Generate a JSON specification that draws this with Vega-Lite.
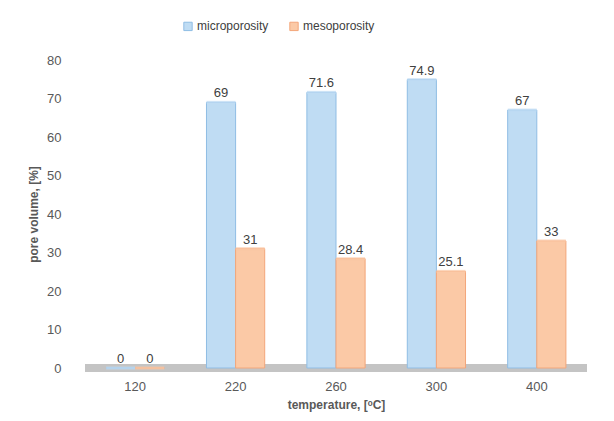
{
  "$schema": "https://vega.github.io/schema/vega-lite/v6.json",
  "width": 502,
  "height": 308,
  "autosize": "none",
  "padding": {"left": 85, "top": 60, "right": 27, "bottom": 53},
  "background": "white",
  "config": {"view": {"stroke": null}, "font": "Liberation Sans"},
  "data": {"values": [
    {"temperature": "120", "type": "microporosity", "value": 0},
    {"temperature": "120", "type": "mesoporosity", "value": 0},
    {"temperature": "220", "type": "microporosity", "value": 69},
    {"temperature": "220", "type": "mesoporosity", "value": 31},
    {"temperature": "260", "type": "microporosity", "value": 71.6},
    {"temperature": "260", "type": "mesoporosity", "value": 28.4},
    {"temperature": "300", "type": "microporosity", "value": 74.9},
    {"temperature": "300", "type": "mesoporosity", "value": 25.1},
    {"temperature": "400", "type": "microporosity", "value": 67},
    {"temperature": "400", "type": "mesoporosity", "value": 33}
  ]},
  "encoding": {
    "x": {"field": "temperature", "type": "nominal", "sort": null,
      "scale": {"paddingInner": 0.42, "paddingOuter": 0.21},
      "axis": {"title": "temperature, [ᵒC]", "labelAngle": 0, "domain": false, "ticks": false,
        "labelColor": "#595959", "labelFontSize": 13, "labelPadding": 12,
        "titleColor": "#595959", "titleFontSize": 12, "titleFontWeight": "bold", "titlePadding": 6}},
    "xOffset": {"field": "type", "type": "nominal", "sort": ["microporosity", "mesoporosity"]},
    "y": {"field": "value", "type": "quantitative",
      "scale": {"domain": [0, 80]},
      "axis": {"title": "pore volume, [%]", "values": [0,10,20,30,40,50,60,70,80], "grid": false, "domain": false, "ticks": false,
        "labelColor": "#595959", "labelFontSize": 13, "labelPadding": 24,
        "titleColor": "#595959", "titleFontSize": 12, "titleFontWeight": "bold", "titlePadding": 6}}
  },
  "layer": [
    {
      "mark": {"type": "rule", "color": "#c4c4c4", "strokeWidth": 7},
      "encoding": {"y": {"datum": 0}, "x": null, "xOffset": null}
    },
    {
      "mark": {"type": "bar", "strokeWidth": 1},
      "encoding": {
        "color": {"field": "type", "type": "nominal",
          "scale": {"domain": ["microporosity", "mesoporosity"], "range": ["#bfdcf3", "#fbc9a6"]},
          "legend": {"title": null, "orient": "none", "legendX": 97, "legendY": -40, "direction": "horizontal", "symbolType": "square",
            "labelFontSize": 12, "labelColor": "#404040", "symbolSize": 70, "columnPadding": 18, "labelOffset": 3,
            "symbolStrokeWidth": 1}},
        "stroke": {"field": "type", "type": "nominal",
          "scale": {"domain": ["microporosity", "mesoporosity"], "range": ["#8fbde4", "#f3a67a"]},
          "legend": null}
      }
    },
    {
      "mark": {"type": "tick", "thickness": 3, "size": 29},
      "encoding": {
        "color": {"field": "type", "type": "nominal",
          "scale": {"domain": ["microporosity", "mesoporosity"], "range": ["#7fb0d8", "#e0a07c"]},
          "legend": null}
      }
    },
    {
      "mark": {"type": "text", "dy": -9, "fontSize": 13, "color": "#404040"},
      "encoding": {"text": {"field": "value", "type": "quantitative"}}
    }
  ]
}
